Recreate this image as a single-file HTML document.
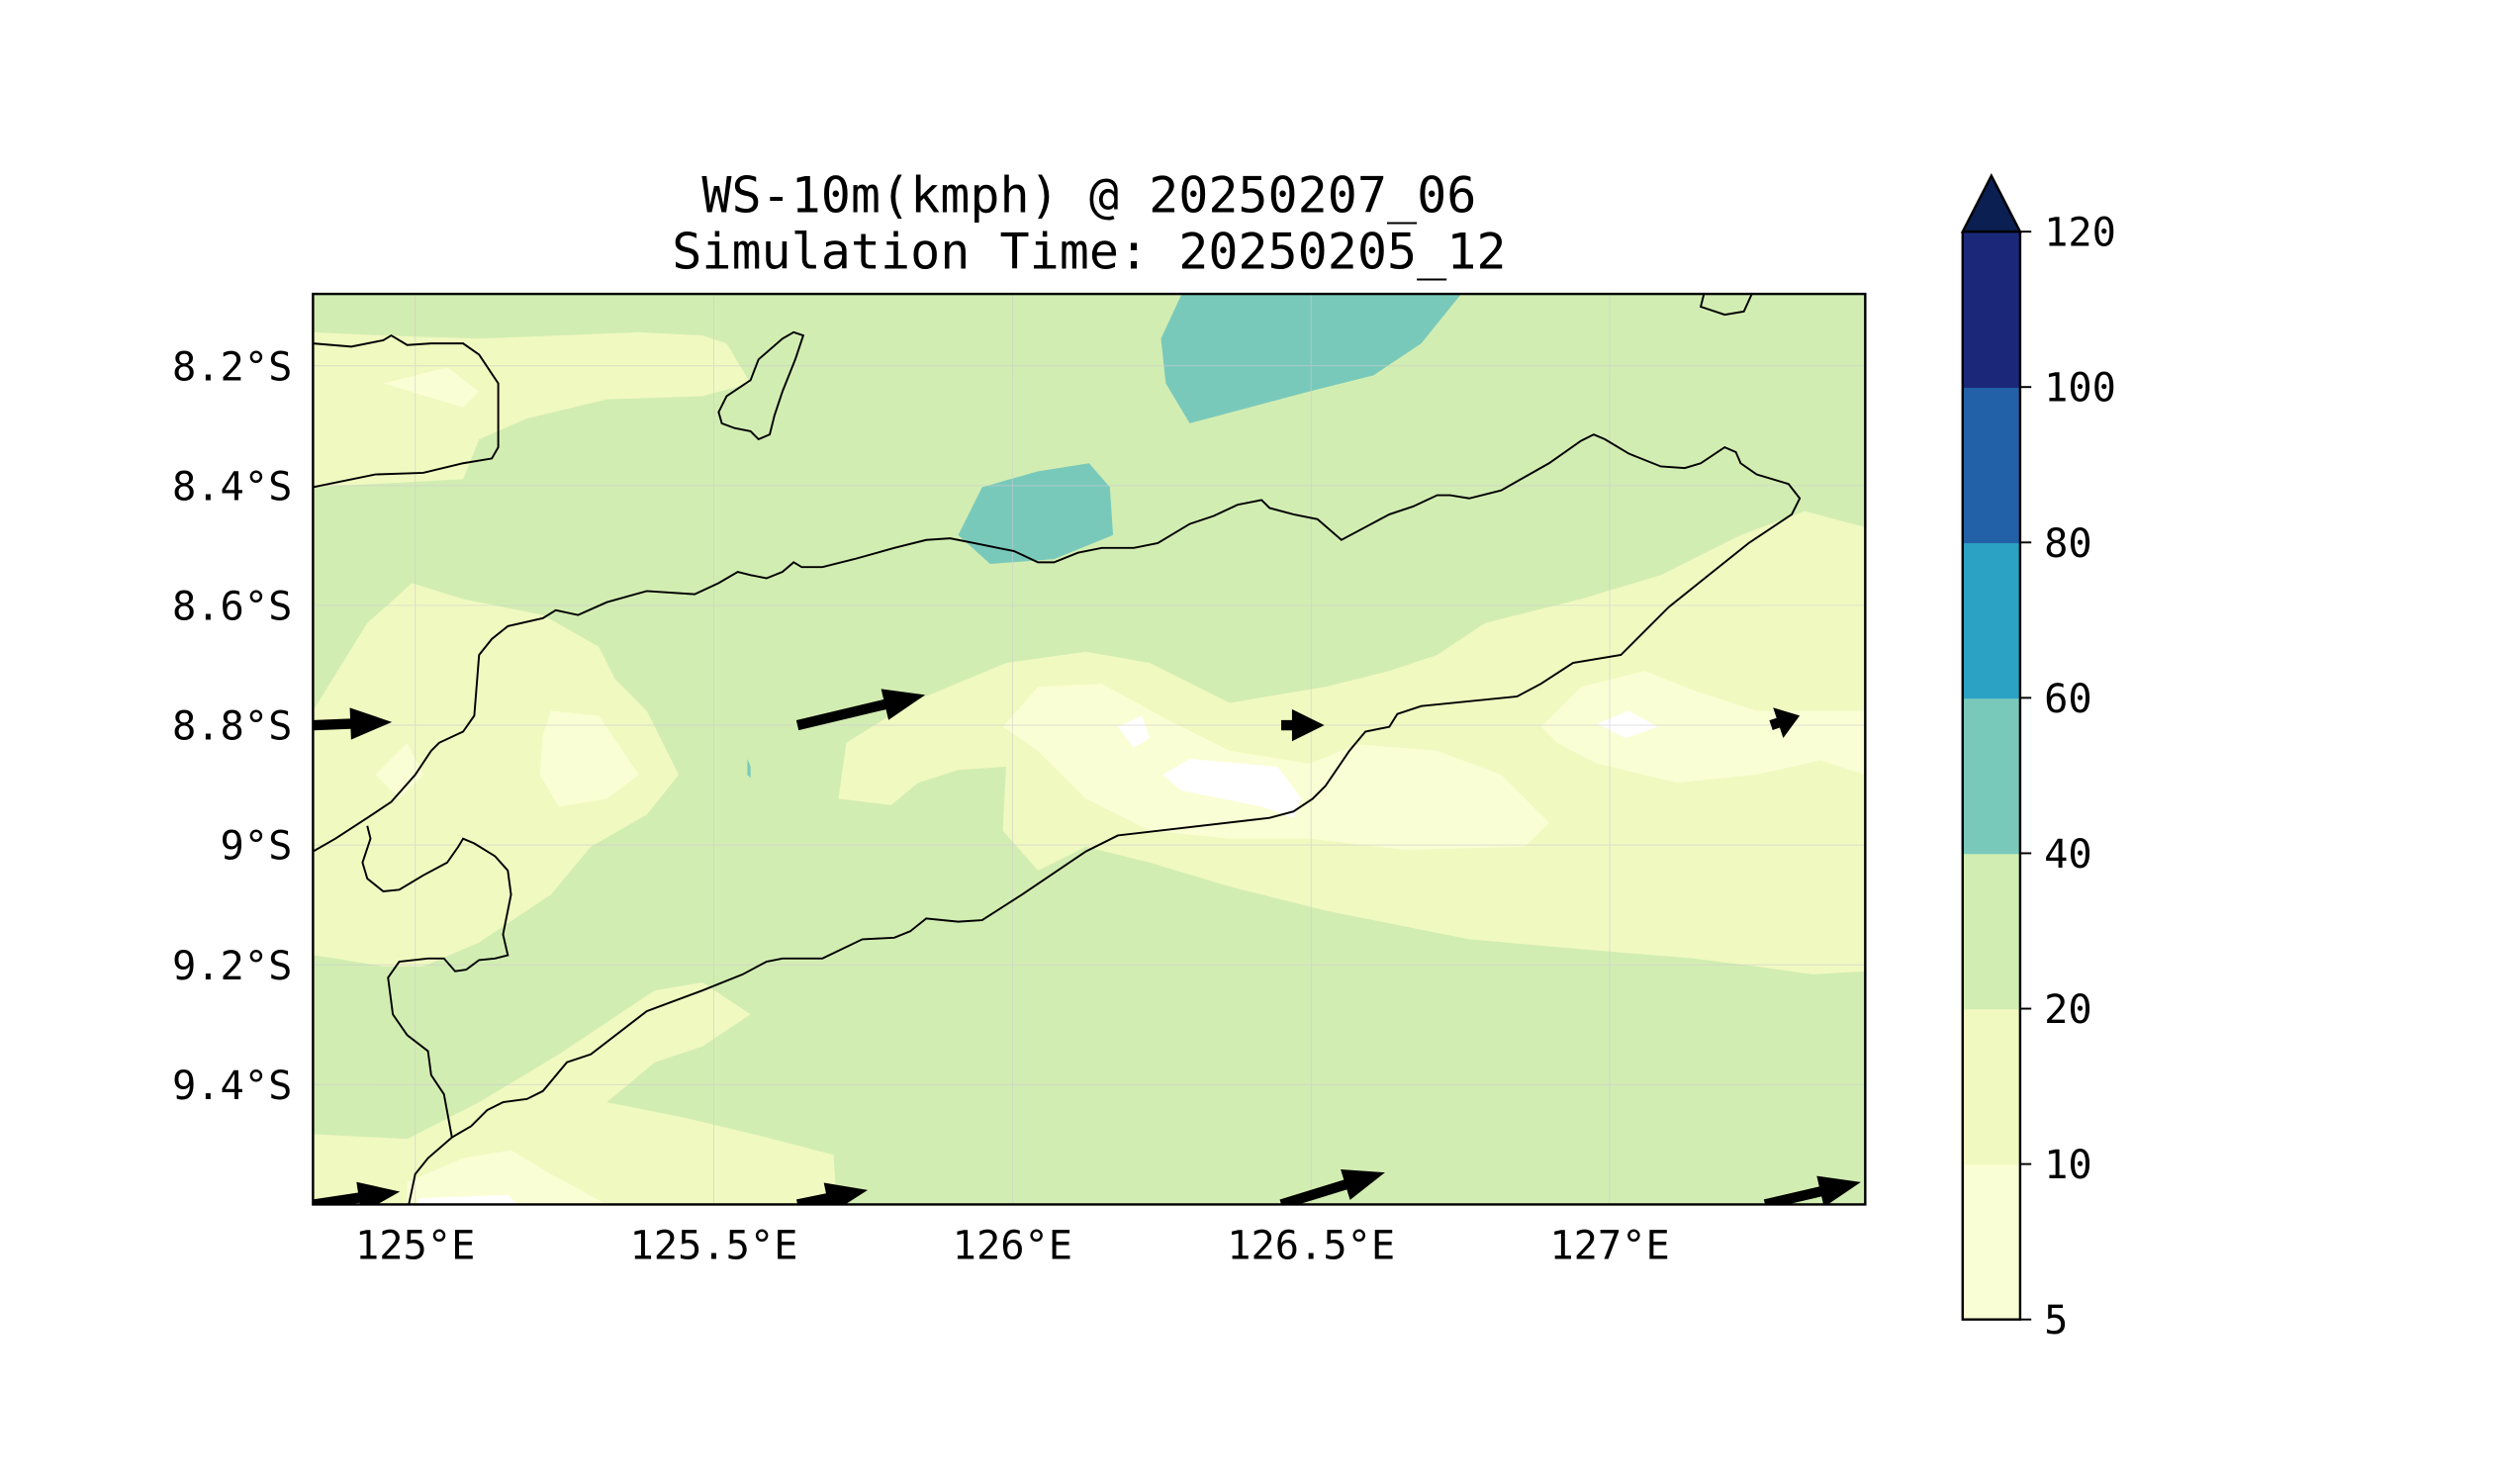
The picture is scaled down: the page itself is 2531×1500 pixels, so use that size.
<!DOCTYPE html>
<html><head><meta charset="utf-8"><style>html,body{margin:0;padding:0;background:#fff}svg{display:block}</style></head>
<body>
<svg id="fig" xmlns="http://www.w3.org/2000/svg" width="2531" height="1500" viewBox="0 0 1568 929" preserveAspectRatio="none" font-family="'DejaVu Sans Mono','Liberation Mono',monospace">
<defs><clipPath id="pc"><rect x="196" y="184" width="972" height="570"/></clipPath></defs>
<rect width="1568" height="929" fill="#fff"/>
<text x="682" y="133" font-size="31" text-anchor="middle">WS-10m(kmph) @ 20250207_06</text>
<text x="682" y="168" font-size="31" text-anchor="middle">Simulation Time: 20250205_12</text>
<g clip-path="url(#pc)">
<rect x="196" y="184" width="972" height="570" fill="#d2edb2"/>
<g fill="#f0f9c0">
<path d="M196,208 L240,210 300,212 400,208 440,210 455,215 470,240 440,248 380,250 330,262 300,275 290,300 196,305Z"/>
<path d="M196,445 L230,390 258,365 290,375 340,385 375,405 385,425 405,445 425,485 405,510 370,530 345,560 300,590 265,605 240,605 210,600 196,598Z"/>
<path d="M525,500 L530,465 570,440 630,415 680,408 720,415 770,440 830,430 870,420 900,410 930,390 990,375 1040,360 1090,335 1130,320 1168,330 1168,608 1135,610 1100,605 1060,600 1000,595 920,588 880,580 830,570 770,555 720,540 680,530 650,545 628,520 630,480 600,482 575,490 558,504Z"/>
<path d="M196,754 L196,710 255,713 300,690 350,660 380,640 410,620 440,615 470,635 440,655 410,665 380,690 430,700 480,712 522,723 524,754Z"/>
</g>
<g fill="#fafed4">
<path d="M240,240 L280,230 300,245 290,255Z"/>
<path d="M345,445 L375,448 400,485 380,500 350,505 338,485 340,460Z"/>
<path d="M235,485 L255,465 265,485 250,500Z"/>
<path d="M628,455 L650,430 690,428 730,450 770,470 820,478 850,466 900,470 940,485 970,515 955,530 880,532 820,525 770,525 720,520 680,500 650,470Z"/>
<path d="M965,455 L990,430 1030,420 1060,432 1100,445 1168,445 1168,485 1140,476 1100,485 1050,490 1000,478 975,465Z"/>
<path d="M255,740 L290,725 320,720 345,735 380,754 255,754Z"/>
</g>
<g fill="#ffffff">
<path d="M700,455 L715,448 720,462 710,468Z"/>
<path d="M728,485 L745,475 800,480 815,500 810,512 790,505 740,495Z"/>
<path d="M1000,453 L1020,445 1038,455 1018,462Z"/>
<path d="M262,750 L318,748 324,754 262,754Z"/>
</g>
<g fill="#79c9bb">
<path d="M740,184 L915,184 890,215 860,235 820,245 745,265 730,240 727,212Z"/>
<path d="M600,335 L615,305 650,295 682,290 695,305 697,335 660,350 620,353Z"/>
<path d="M468,475 L470,480 470,487 468,485Z"/>
</g>
<g id="grid" stroke="#ccc" stroke-width="0.6" opacity="0.6"></g>
<g fill="none" stroke="#000" stroke-width="1.2">
<polyline points="196,215 220,217 240,213 245,210 255,216 270,215 290,215 300,222 312,240 312,280 308,287 290,290 265,296 235,297 196,305"/>
<polygon points="450,258 455,248 470,238 475,225 490,212 497,208 503,210 498,225 490,245 485,260 482,272 475,275 470,270 460,268 452,265"/>
<polyline points="1067,184 1065,192 1080,197 1092,195 1097,184"/>
<polyline points="196,533 210,525 230,512 245,502 260,485 270,470 275,465 290,458 297,448 300,410 308,400 318,392 340,387 348,382 362,385 380,377 405,370 435,372 450,365 462,358 470,360 480,362 490,358 497,352 502,355 515,355 535,350 560,343 580,338 595,337 610,340 635,345 650,352 660,352 675,346 690,343 710,343 725,340 745,328 760,323 775,316 790,313 795,318 810,322 825,325 840,338 855,330 870,322 885,317 900,310 908,310 920,312 940,307 970,290 990,276 998,272 1005,275 1020,284 1040,292 1055,293 1065,290 1080,280 1087,283 1090,290 1100,297 1120,303 1127,312 1122,322 1095,340 1070,360 1045,380 1020,405 1015,410 985,415 965,428 950,436 890,442 875,447 870,455 855,458 845,470 830,492 822,500 810,508 795,512 700,523 680,533 640,560 615,576 600,577 580,575 570,583 560,587 540,588 515,600 505,600 490,600 480,602 465,610 440,620 405,633 370,660 355,665 340,683 330,688 315,690 305,695 295,705 283,712 268,725 260,735 256,754"/>
<polyline points="230,517 232,525 227,540 230,550 240,558 250,557 265,548 280,540 287,530 290,525 297,528 310,536 318,545 320,560 315,585 318,598 310,600 300,601 292,607 285,608 278,600 268,600 250,602 243,612 246,635 255,648 268,658 270,673 278,685 283,712"/>
</g>
<g id="quiver" fill="#000"></g>
</g>
<rect x="196" y="184" width="972" height="570" fill="none" stroke="#000" stroke-width="1.5"/>
<g id="xticks" font-size="25"></g>
<g id="yticks" font-size="25"></g>
<g id="cbar"></g>
<script>
const lonTicks=[125,125.5,126,126.5,127];
const latTicks=[8.2,8.4,8.6,8.8,9.0,9.2,9.4];
const cbLevels=[5,10,20,40,60,80,100,120];
const cbColors=["#fafed4","#f0f9c0","#d2edb2","#79c9bb","#2ba2c3","#2260a8","#1b2879"];
const vecLon=[124.83,125.64,126.45,127.27,124.83,125.64,126.45,127.26];
const vecLat=[8.8,8.8,8.8,8.8,9.6,9.6,9.6,9.6];
const vecU=[49,80,27,18,54,44,65,60];
const vecV=[-2,-19,0,-6,-8,-9,-20,-14];
const NS="http://www.w3.org/2000/svg";
const xs=lon=>260+(lon-125)*374;
const ys=lat=>229+(lat-8.2)*375;
function mk(t,a,p){const e=document.createElementNS(NS,t);for(const k in a)e.setAttribute(k,a[k]);p.appendChild(e);return e;}
const grid=document.getElementById('grid'),xt=document.getElementById('xticks'),yt=document.getElementById('yticks');
lonTicks.forEach(l=>{const x=xs(l);
 const g=mk('line',{x1:x,x2:x,y1:184,y2:754},grid);
 
 
 const t=mk('text',{x:x,y:788,'text-anchor':'middle'},xt);t.textContent=l+'°E';
 
 });
latTicks.forEach(l=>{const y=ys(l);
 const g=mk('line',{x1:196,x2:1168,y1:y,y2:y},grid);
 
 
 const t=mk('text',{x:183,y:y+9,'text-anchor':'end'},yt);t.textContent=(Math.round(l*10)/10)+'°S';
 
 });
const q=document.getElementById('quiver');
vecLon.forEach((lo,i)=>{const x0=xs(lo),y0=ys(vecLat[i]);const u=vecU[i],v=vecV[i];
 const L=Math.hypot(u,v),ux=u/L,uy=v/L,px=-uy,py=ux;const hl=Math.min(26,L*0.75),sw=3.2,hw=10;
 const bx=x0+ux*(L-hl),by=y0+uy*(L-hl);
 const pts=[[x0+px*sw,y0+py*sw],[bx+px*sw,by+py*sw],[bx+px*hw,by+py*hw],[x0+u,y0+v],[bx-px*hw,by-py*hw],[bx-px*sw,by-py*sw],[x0-px*sw,y0-py*sw]];
 const a=mk('polygon',{points:pts.map(p=>p.join(',')).join(' ')},q);
 
 });
const cb=document.getElementById('cbar');const cbTop=145,cbBot=826,seg=(cbBot-cbTop)/cbColors.length;
cbColors.forEach((c,i)=>{const r=mk('rect',{x:1229,y:cbBot-seg*(i+1),width:36,height:seg+0.5,fill:c},cb);
 
 });
const ext=mk('polygon',{points:`1229,${cbTop} 1247,110 1265,${cbTop}`,fill:'#0c1f52',stroke:'#000','stroke-width':1.5},cb);


mk('polyline',{points:`1229,${cbTop} 1229,${cbBot} 1265,${cbBot} 1265,${cbTop}`,fill:'none',stroke:'#000','stroke-width':1.5},cb);
cbLevels.forEach((lv,i)=>{const y=cbBot-seg*i;mk('line',{x1:1265,x2:1272,y1:y,y2:y,stroke:'#000','stroke-width':1.2},cb);
 const t=mk('text',{x:1280,y:y+9,'font-size':25},cb);t.textContent=lv;
 
 });
</script>
</svg>
</body></html>
